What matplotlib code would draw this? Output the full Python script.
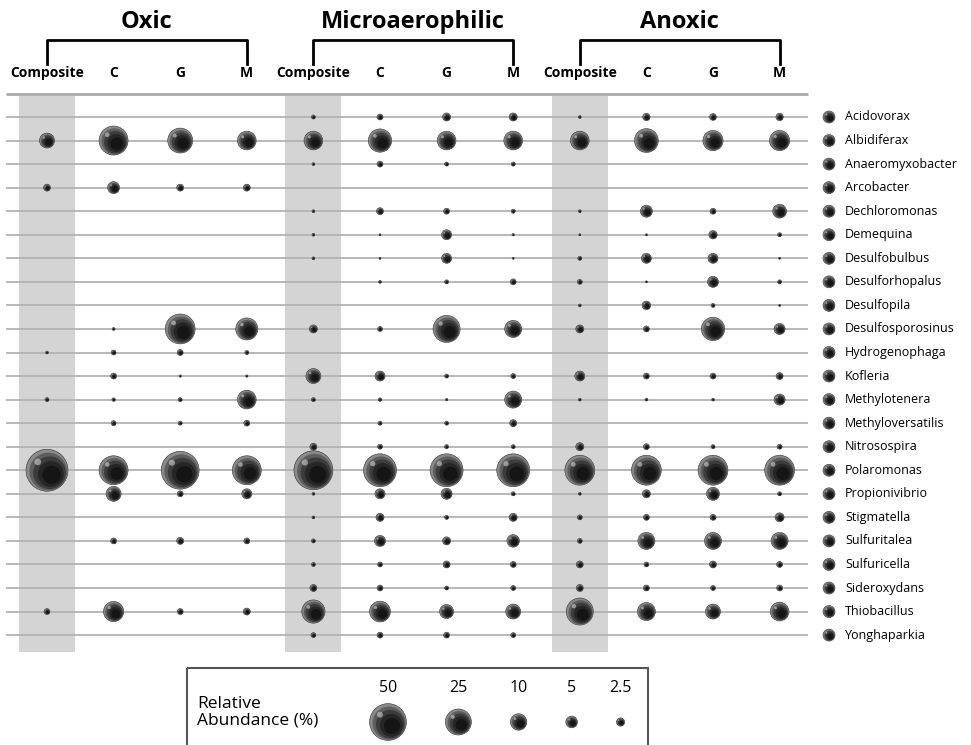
import numpy as np
import matplotlib.pyplot as plt
from matplotlib.patches import Rectangle

plt.rcParams['font.family'] = ['Open Sans', 'DejaVu Sans']

genera = ['Acidovorax', 'Albidiferax', 'Anaeromyxobacter', 'Arcobacter', 'Dechloromonas',
          'Demequina', 'Desulfobulbus', 'Desulforhopalus', 'Desulfopila', 'Desulfosporosinus',
          'Hydrogenophaga', 'Kofleria', 'Methylotenera', 'Methyloversatilis', 'Nitrosospira',
          'Polaromonas', 'Propionivibrio', 'Stigmatella', 'Sulfuritalea', 'Sulfuricella',
          'Sideroxydans', 'Thiobacillus', 'Yonghaparkia']
conditions = ['Oxic', 'Microaerophilic', 'Anoxic']
samples = ['Composite', 'C', 'G', 'M']

# relative abundance (%), columns: Composite, C, G, M
oxic = [
    [0, 0, 0, 0], [8.3, 31, 23, 13], [0, 0, 0, 0], [1.8, 5.3, 1.8, 1.8],
    [0, 0, 0, 0], [0, 0, 0, 0], [0, 0, 0, 0], [0, 0, 0, 0], [0, 0, 0, 0],
    [0, 0.3, 33, 18], [0.3, 0.9, 1.3, 0.6], [0, 1.3, 0.2, 0.2], [0.6, 0.45, 0.6, 13],
    [0, 0.9, 0.6, 1.3], [0, 0, 0, 0], [65, 31, 53, 31], [0, 8.3, 1.3, 3.7],
    [0, 0, 0, 0], [0, 1.3, 1.8, 1.3], [0, 0, 0, 0], [0, 0, 0, 0],
    [1.3, 15, 1.3, 1.8], [0, 0, 0, 0],
]
micro = [
    [0.6, 1.3, 2.4, 2.4], [13, 20, 13, 13], [0.3, 1.3, 0.6, 0.6], [0, 0, 0, 0],
    [0.3, 1.8, 1.3, 0.6], [0.3, 0.15, 3.7, 0.2], [0.3, 0.15, 3.7, 0.15], [0, 0.3, 0.6, 1.3],
    [0, 0, 0, 0], [2.4, 0.9, 27, 10.7], [0, 0, 0, 0], [8.3, 3.7, 0.6, 0.9],
    [0.6, 0.45, 0.2, 10.7], [0, 0.6, 0.6, 1.8], [1.8, 0.9, 0.6, 0.6], [56, 40, 40, 40],
    [0.3, 3.7, 4.5, 0.6], [0.3, 2.4, 0.6, 2.4], [0.6, 4.5, 2.4, 5.8], [0.6, 0.9, 1.8, 1.3],
    [1.8, 1.3, 0.6, 0.9], [20, 16, 7.2, 8.3], [0.9, 1.3, 1.3, 0.9],
]
anoxic = [
    [0.3, 2, 1.7, 2], [13, 21, 15, 15], [0, 0, 0, 0], [0, 0, 0, 0],
    [0.3, 5.3, 1.3, 7], [0.15, 0.15, 2.6, 0.6], [0.6, 3.7, 3.7, 0.15], [0.9, 0.15, 4.5, 0.6],
    [0.3, 2.7, 0.6, 0.15], [2.4, 1.3, 20, 4.5], [0, 0, 0, 0], [3.7, 1.3, 1.3, 1.8],
    [0.3, 0.3, 0.3, 4.5], [0, 0, 0, 0], [2.4, 1.3, 0.6, 0.9], [33, 33, 33, 33],
    [0.3, 2.4, 6.3, 0.6], [0.9, 1.3, 1.3, 3], [0.9, 10.7, 10.7, 10.7], [1.8, 0.9, 1.8, 1.3],
    [1.8, 1.3, 0.9, 1.3], [27, 12, 8.3, 13], [0, 0, 0, 0],
]
legend_vals = [50, 25, 10, 5, 2.5]
legend_labels = ['50', '25', '10', '5', '2.5']

# layout: pixel geometry of the figure
X0, DX = 47, 66.6     # first column centre, column step (px)
Y0, DY = 117, 23.55   # first row centre, row step (px)
K = 5.2               # bubble diameter (px) = K * sqrt(value)

def px_x(p):
    return (p - X0) / DX

def px_y(p):
    return (p - Y0) / DY

fig = plt.figure(figsize=(9.71, 7.45), dpi=100)
ax = fig.add_axes([0, 0, 1, 1])
ax.set_xlim(px_x(0), px_x(971))
ax.set_ylim(px_y(745), px_y(0))
ax.axis('off')

# shaded "glass ball" look: concentric layers getting darker towards lower right
shade = [(1.00, '#8a8a8a', 0.00), (0.90, '#5e5e5e', 0.03), (0.78, '#3c3c3c', 0.06),
         (0.62, '#262626', 0.09), (0.44, '#151515', 0.11)]

def spheres(x, y, v, z=3):
    x = np.asarray(x, float); y = np.asarray(y, float); v = np.asarray(v, float)
    m = v > 0
    x, y, v = x[m], y[m], v[m]
    dpx = K * np.sqrt(v)
    dpt = dpx * 0.72
    for k, (f, col, off) in enumerate(shade):
        ec = '#303030' if k == 0 else 'none'
        ax.scatter(x + off * dpx / DX, y + off * dpx / DY, s=(f * dpt)**2, c=col,
                   edgecolors=ec, linewidths=0.4, zorder=z + 0.1 * k)
    ax.scatter(x - 0.22 * dpx / DX, y - 0.2 * dpx / DY, s=(0.16 * dpt)**2,
               c='#bdbdbd', alpha=0.7, linewidths=0, zorder=z + 0.9)

n = len(genera)
rows = np.arange(n)

# shaded composite columns
for g in range(3):
    ax.add_patch(Rectangle((4 * g - 0.42, px_y(96)), 0.84, px_y(652) - px_y(96),
                           color='#d4d4d4', lw=0, zorder=0))

ax.hlines(rows, px_x(6), px_x(808), color='#b2b2b2', lw=1.3, zorder=1)
ax.hlines(px_y(94), px_x(6), px_x(808), color='#aaaaaa', lw=2, zorder=1)

for g, (cond, data) in enumerate(zip(conditions, [oxic, micro, anoxic])):
    arr = np.array(data)
    for j in range(4):
        spheres(np.full(n, 4 * g + j), rows, arr[:, j])
        ax.text(4 * g + j, px_y(73), samples[j], ha='center', va='center',
                fontsize=10, fontweight='bold')
    xl, xr = 4 * g, 4 * g + 3
    ax.plot([xl, xl, xr, xr], [px_y(64), px_y(40), px_y(40), px_y(64)],
            color='black', lw=2, solid_joinstyle='round')
    ax.text((xl + xr) / 2, px_y(22), cond, ha='center', va='center',
            fontsize=17, fontweight='bold')

# genus labels with icons
spheres(np.full(n, px_x(829)), rows, np.full(n, 5.3))
for r, name in enumerate(genera):
    ax.text(px_x(845), r, name, ha='left', va='center', fontsize=9)

# size legend
ax.add_patch(Rectangle((px_x(187), px_y(668)), px_x(648) - px_x(187), px_y(760) - px_y(668),
                       fill=False, ec='#555555', lw=1.5, zorder=2))
ax.text(px_x(197), px_y(712), 'Relative\nAbundance (%)', ha='left', va='center',
        fontsize=12.5, linespacing=1.0)
diam = K * np.sqrt(np.array(legend_vals))
lx = [388.0]
for i in range(1, len(diam)):
    lx.append(lx[-1] + (diam[i - 1] + diam[i]) / 2 + 39)
lx = px_x(np.array(lx))
spheres(lx, np.full(len(lx), px_y(722)), legend_vals)
for x, lab in zip(lx, legend_labels):
    ax.text(x, px_y(688), lab, ha='center', va='center', fontsize=11.5)

fig.savefig('out.png', dpi=100)
